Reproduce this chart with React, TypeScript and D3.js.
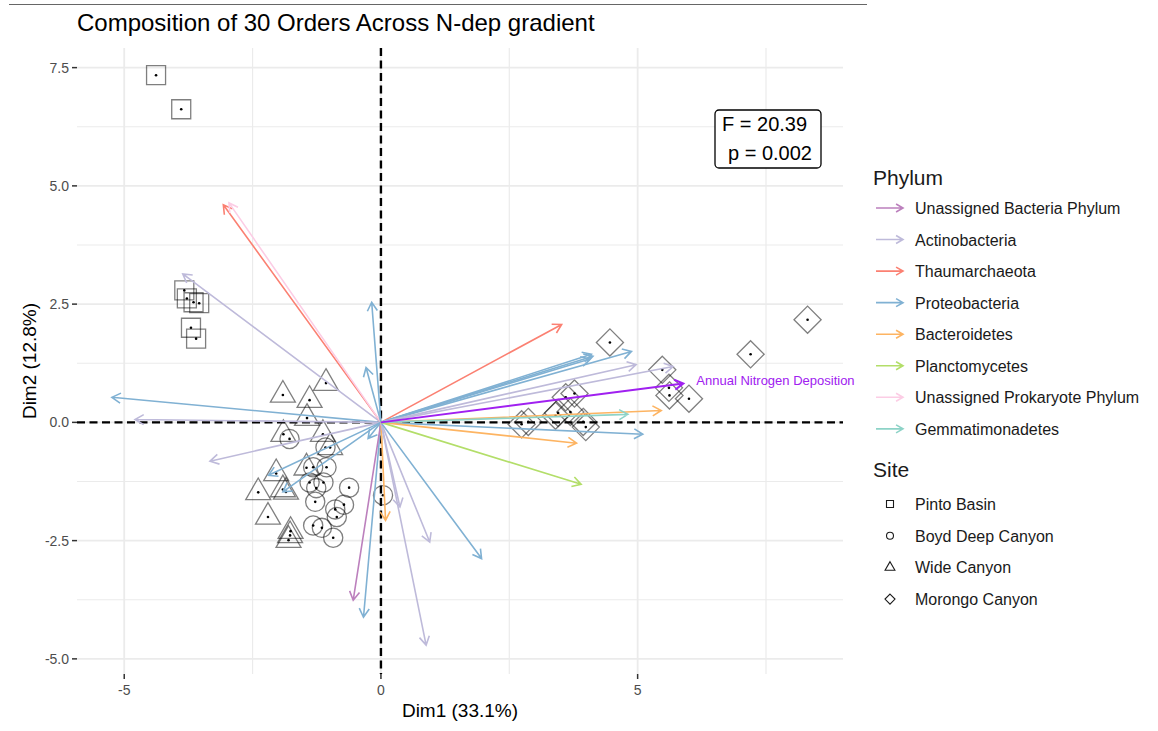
import React from "react";
import * as d3 from "d3";

// sample scores (Dim1, Dim2) per site
const pintoBasin: [number, number][] = [
  [-4.38, 7.34], [-3.89, 6.62], [-3.83, 2.79], [-3.78, 2.62], [-3.65, 2.54],
  [-3.54, 2.52], [-3.7, 2.0], [-3.6, 1.77],
];
const boydDeepCanyon: [number, number][] = [
  [-1.78, -0.35], [-1.08, -0.53], [-1.06, -0.95], [-1.32, -0.95], [-1.39, -1.27],
  [-1.26, -1.39], [-1.12, -1.27], [-1.28, -1.68], [-0.62, -1.38], [-0.72, -1.74],
  [-0.89, -1.84], [-0.86, -2.0], [-1.32, -2.18], [-1.15, -2.23], [-0.93, -2.44],
  [0.04, -1.54],
];
const wideCanyon: [number, number][] = [
  [-1.91, 0.58], [-1.39, 0.47], [-1.07, 0.83], [-1.44, 0.09], [-1.9, -0.25],
  [-1.13, -0.25], [-0.99, -0.53], [-2.04, -1.08], [-2.39, -1.48], [-1.85, -1.47],
  [-1.91, -1.42], [-2.2, -2.0], [-1.77, -2.39], [-1.8, -2.49], [-1.76, -2.3],
  [-1.45, -0.96],
];
const morongoCanyon: [number, number][] = [
  [4.46, 1.69], [5.48, 1.11], [5.61, 0.73], [5.62, 0.57], [6.0, 0.5],
  [7.2, 1.44], [8.31, 2.17], [3.6, 0.53], [3.77, 0.61], [3.45, 0.2],
  [3.69, 0.22], [3.99, -0.1], [3.94, 0.01], [2.74, -0.04], [2.87, 0.01],
  [3.4, 0.14],
];

const siteNames = ["Pinto Basin", "Boyd Deep Canyon", "Wide Canyon", "Morongo Canyon"];

const phylumNames = [
  "Unassigned Bacteria Phylum",
  "Actinobacteria",
  "Thaumarchaeota",
  "Proteobacteria",
  "Bacteroidetes",
  "Planctomycetes",
  "Unassigned Prokaryote Phylum",
  "Gemmatimonadetes",
];
const phylumColors = ["#BC80BD", "#BEBADA", "#FB8072", "#80B1D3", "#FDB462", "#B3DE69", "#FCCDE5", "#8DD3C7"];

// order loadings: phylum, Dim1, Dim2
const orderLoadings: [string, number, number][] = [
  ["Proteobacteria", -5.24, 0.53],
  ["Actinobacteria", -4.79, 0.06],
  ["Actinobacteria", -3.86, 3.14],
  ["Thaumarchaeota", -3.07, 4.6],
  ["Unassigned Prokaryote Phylum", -2.96, 4.64],
  ["Actinobacteria", -3.33, -0.82],
  ["Proteobacteria", -2.19, -1.12],
  ["Proteobacteria", -1.91, -1.47],
  ["Proteobacteria", -0.18, 2.54],
  ["Proteobacteria", -0.29, 1.16],
  ["Proteobacteria", -0.25, -0.34],
  ["Proteobacteria", -0.34, -4.12],
  ["Unassigned Bacteria Phylum", -0.54, -3.76],
  ["Bacteroidetes", 0.09, -2.07],
  ["Actinobacteria", 0.37, -1.79],
  ["Actinobacteria", 0.95, -2.53],
  ["Actinobacteria", 0.88, -4.71],
  ["Proteobacteria", 1.96, -2.88],
  ["Thaumarchaeota", 3.52, 2.07],
  ["Proteobacteria", 4.13, 1.4],
  ["Proteobacteria", 4.07, 1.34],
  ["Proteobacteria", 4.1, 1.44],
  ["Proteobacteria", 4.88, 1.5],
  ["Actinobacteria", 4.97, 1.22],
  ["Actinobacteria", 5.69, 1.18],
  ["Proteobacteria", 5.1, -0.25],
  ["Bacteroidetes", 3.81, -0.44],
  ["Bacteroidetes", 5.46, 0.25],
  ["Planctomycetes", 3.9, -1.31],
  ["Gemmatimonadetes", 4.81, 0.17],
];

const envLabel = "Annual Nitrogen Deposition";
const envVector: [number, number] = [5.89, 0.82];

const statLines = ["F = 20.39", "p = 0.002"];

const xTicks = [-5, 0, 5];
const xMinor = [-2.5, 2.5, 7.5];
const yTicks = [-5, -2.5, 0, 2.5, 5, 7.5];
const yMinor = [-3.75, -1.25, 1.25, 3.75, 6.25];

const FONT = "'Liberation Sans', Arial, Helvetica, sans-serif";

const locale = d3.formatLocale({ decimal: ".", thousands: ",", grouping: [3], currency: ["$", ""], minus: "-" });
const fmtY = locale.format(".1f");
const fmtX = locale.format("d");

function arrowPath(x1: number, y1: number, x2: number, y2: number, len = 10) {
  const a = Math.atan2(y2 - y1, x2 - x1);
  const h = Math.PI / 6;
  const p = d3.path();
  p.moveTo(x1, y1);
  p.lineTo(x2, y2);
  p.moveTo(x2 - len * Math.cos(a - h), y2 - len * Math.sin(a - h));
  p.lineTo(x2, y2);
  p.lineTo(x2 - len * Math.cos(a + h), y2 - len * Math.sin(a + h));
  return p.toString();
}

const bigShapes = [
  d3.symbol(d3.symbolSquare, 361)(),
  d3.symbol(d3.symbolCircle, 290)(),
  d3.symbol(d3.symbolTriangle, 270)(),
  d3.symbol(d3.symbolDiamond2, 470)(),
];
const smallShapes = [
  d3.symbol(d3.symbolSquare, 49)(),
  d3.symbol(d3.symbolCircle, 38)(),
  d3.symbol(d3.symbolTriangle, 42)(),
  d3.symbol(d3.symbolDiamond2, 64)(),
];

export default function App() {
  const left = 77, right = 843, top = 48, bottom = 674;
  const x = d3.scaleLinear().domain([-5.92, 9.0]).range([left, right]);
  const y = d3.scaleLinear().domain([-5.32, 7.915]).range([bottom, top]);
  const color = d3.scaleOrdinal<string, string>().domain(phylumNames).range(phylumColors);

  const sites = [pintoBasin, boydDeepCanyon, wideCanyon, morongoCanyon];

  return (
    <svg
      width={1158}
      height={731}
      style={{ position: "absolute", left: 0, top: 0, background: "#fff" }}
      fontFamily={FONT}
    >
      <line x1={9} x2={867} y1={4.5} y2={4.5} stroke="#666" strokeWidth={1.2} />
      <text x={77} y={31} fontSize={24} fill="#000">
        Composition of 30 Orders Across N-dep gradient
      </text>

      {/* grid */}
      <g stroke="#EBEBEB">
        {yMinor.map((v) => (
          <line key={"ym" + v} x1={left} x2={right} y1={y(v)} y2={y(v)} strokeWidth={1.2} />
        ))}
        {xMinor.map((v) => (
          <line key={"xm" + v} x1={x(v)} x2={x(v)} y1={top} y2={bottom} strokeWidth={1.2} />
        ))}
        {yTicks.map((v) => (
          <line key={"y" + v} x1={left} x2={right} y1={y(v)} y2={y(v)} strokeWidth={1.8} />
        ))}
        {xTicks.map((v) => (
          <line key={"x" + v} x1={x(v)} x2={x(v)} y1={top} y2={bottom} strokeWidth={1.8} />
        ))}
      </g>

      {/* axes ticks & labels */}
      <g stroke="#333" strokeWidth={1.5}>
        {yTicks.map((v) => (
          <line key={"yt" + v} x1={left - 5} x2={left} y1={y(v)} y2={y(v)} />
        ))}
        {xTicks.map((v) => (
          <line key={"xt" + v} x1={x(v)} x2={x(v)} y1={bottom} y2={bottom + 5} />
        ))}
      </g>
      <g fontSize={14} fill="#4D4D4D">
        {yTicks.map((v) => (
          <text key={"yl" + v} x={left - 8} y={y(v) + 5} textAnchor="end">
            {fmtY(v)}
          </text>
        ))}
        {xTicks.map((v) => (
          <text key={"xl" + v} x={x(v)} y={695} textAnchor="middle">
            {fmtX(v)}
          </text>
        ))}
      </g>
      <text x={(left + right) / 2} y={717} fontSize={19} textAnchor="middle" fill="#000">
        Dim1 (33.1%)
      </text>
      <text transform={`translate(36,${(top + bottom) / 2}) rotate(-90)`} fontSize={19} textAnchor="middle" fill="#000">
        Dim2 (12.8%)
      </text>

      {/* samples */}
      {sites.map((pts, si) => (
        <g key={"s" + si}>
          {pts.map((d, i) => (
            <g key={i} transform={`translate(${x(d[0])},${y(d[1])})`}>
              <path d={bigShapes[si]!} fill="none" stroke="#000" strokeOpacity={0.5} strokeWidth={1.3} />
              <circle r={1.3} fill="#000" />
            </g>
          ))}
        </g>
      ))}

      {/* reference lines */}
      <g stroke="#000" strokeWidth={2.4} strokeDasharray="8,4.5">
        <line x1={left} x2={right} y1={y(0)} y2={y(0)} />
        <line x1={x(0)} x2={x(0)} y1={top} y2={bottom} />
      </g>

      {/* loadings */}
      <g fill="none" strokeWidth={1.6}>
        {orderLoadings.map((d, i) => (
          <path key={i} d={arrowPath(x(0), y(0), x(d[1]), y(d[2]))} stroke={color(d[0])} />
        ))}
        <path d={arrowPath(x(0), y(0), x(envVector[0]), y(envVector[1]))} stroke="#A020F0" strokeWidth={2} />
      </g>
      <text x={x(envVector[0]) + 13} y={y(envVector[1]) + 1} fontSize={13} fill="#A020F0">
        {envLabel}
      </text>

      {/* statistics label */}
      <rect x={715} y={110} width={106} height={58} rx={4} fill="#fff" stroke="#000" strokeWidth={1.3} />
      <text x={722} y={131} fontSize={20} fill="#000">{statLines[0]}</text>
      <text x={728} y={160} fontSize={20} fill="#000">{statLines[1]}</text>

      {/* legends */}
      <text x={873} y={185} fontSize={21} fill="#1A1A1A">Phylum</text>
      {phylumNames.map((n, i) => {
        const cy = 208 + i * 31.55;
        return (
          <g key={n}>
            <path d={arrowPath(876, cy, 903, cy, 8)} fill="none" stroke={color(n)} strokeWidth={1.6} />
            <text x={915} y={cy + 6} fontSize={16} fill="#1A1A1A">{n}</text>
          </g>
        );
      })}
      <text x={873} y={477} fontSize={21} fill="#1A1A1A">Site</text>
      {siteNames.map((n, i) => {
        const cy = 504 + i * 31.7;
        return (
          <g key={n}>
            <path d={smallShapes[i]!} transform={`translate(890,${cy})`} fill="none" stroke="#1A1A1A" strokeWidth={1.1} />
            <text x={915} y={cy + 6} fontSize={16} fill="#1A1A1A">{n}</text>
          </g>
        );
      })}
    </svg>
  );
}
